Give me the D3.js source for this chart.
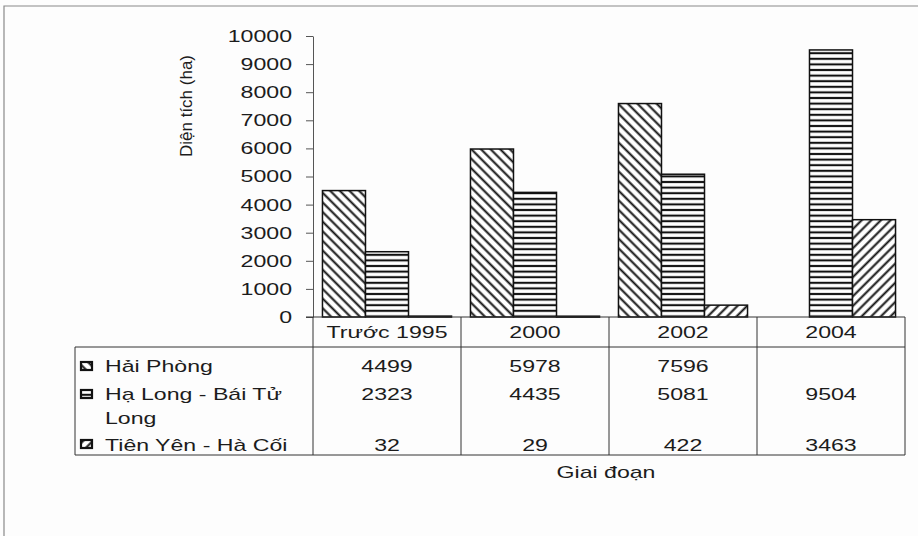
<!DOCTYPE html>
<html>
<head>
<meta charset="utf-8">
<script src="https://cdn.jsdelivr.net/npm/d3@7"></script>
<style>
  body { margin: 0; background: #fdfdfd; }
  svg { display: block; }
  text { font-family: "Liberation Sans", Arial, sans-serif; font-size: 17px; fill: #1c1c1c; }
</style>
</head>
<body>
<svg id="chart"></svg>
<script>
// data
const categories = ["Trước 1995", "2000", "2002", "2004"];
const seriesNames = ["Hải Phòng", "Hạ Long - Bái Tử Long", "Tiên Yên - Hà Cối"];
const haiPhong = [4499, 5978, 7596, null];
const haLong = [2323, 4435, 5081, 9504];
const tienYen = [32, 29, 422, 3463];
const yTicks = [0, 1000, 2000, 3000, 4000, 5000, 6000, 7000, 8000, 9000, 10000];
const yTitle = "Diện tích (ha)";
const xTitle = "Giai đoạn";

const series = [haiPhong, haLong, tienYen];
const patternIds = ["pHai", "pHa", "pTien"];

const width = 918;
const height = 536;
const SX = 1.36; // the scan is stretched sideways, so the text is too
const plot = { left: 313, right: 905, top: 36, bottom: 317 };
const table = { left: 75, headBottom: 347, bottom: 455 };

const svg = d3.select("#chart").attr("width", width).attr("height", height);

// hatch patterns
const defs = svg.append("defs");
function hatch(id, angle, gap, lw) {
  const p = defs.append("pattern")
    .attr("id", id)
    .attr("patternUnits", "userSpaceOnUse")
    .attr("width", gap)
    .attr("height", gap)
    .attr("patternTransform", `rotate(${angle})`);
  p.append("rect").attr("width", gap).attr("height", gap).attr("fill", "#fff");
  p.append("line")
    .attr("x1", gap / 2).attr("x2", gap / 2)
    .attr("y1", -1).attr("y2", gap + 1)
    .attr("stroke", "#111")
    .attr("stroke-width", lw);
}
hatch("pHai", -45, 6.8, 2);
hatch("pHa", 90, 5.6, 2.1);
hatch("pTien", 45, 6.8, 2);

// frame of the scanned page
svg.append("path")
  .attr("d", `M4,${height} V6 H${width}`)
  .attr("fill", "none")
  .attr("stroke", "#8a8a8a")
  .attr("stroke-width", 1.2);

const x = d3.scaleBand().domain(categories).range([plot.left, plot.right]);
const xSub = d3.scaleBand().domain(d3.range(series.length))
  .range([0, x.bandwidth()])
  .paddingOuter(0.22);
const y = d3.scaleLinear().domain([0, 10000]).range([plot.bottom, plot.top]);

function stretchedText(g, tx, ty, str, anchor) {
  return g.append("text")
    .attr("transform", `translate(${tx},${ty}) scale(${SX},1)`)
    .attr("text-anchor", anchor)
    .text(str);
}

// y axis
const yAxis = svg.append("g")
  .attr("transform", `translate(${plot.left},0)`)
  .call(d3.axisLeft(y).tickValues(yTicks).tickSize(7).tickSizeOuter(0).tickFormat(d3.format("d")));
yAxis.select(".domain").attr("stroke", "#555");
yAxis.selectAll(".tick line").attr("stroke", "#555");
yAxis.selectAll(".tick text")
  .attr("font-size", null)
  .attr("font-family", null)
  .attr("fill", null)
  .attr("x", -21 / SX)
  .attr("transform", `scale(${SX},1)`);
yAxis.attr("font-size", null).attr("font-family", null);

svg.append("text")
  .attr("transform", `translate(192,106) rotate(-90)`)
  .attr("text-anchor", "middle")
  .attr("font-size", 16)
  .text(yTitle);

// bars
const barData = [];
series.forEach((vals, si) => {
  vals.forEach((v, ci) => {
    if (v != null) barData.push({ si, cat: categories[ci], value: v });
  });
});
svg.append("g")
  .selectAll("rect")
  .data(barData)
  .join("rect")
  .attr("x", (d) => x(d.cat) + xSub(d.si))
  .attr("y", (d) => y(d.value))
  .attr("width", xSub.bandwidth())
  .attr("height", (d) => Math.max(1, plot.bottom - y(d.value)))
  .attr("fill", (d) => `url(#${patternIds[d.si]})`)
  .attr("stroke", "#111")
  .attr("stroke-width", 1.5);

// data table under the plot
const grid = svg.append("g").attr("stroke", "#333").attr("stroke-width", 1).attr("fill", "none");
grid.append("line").attr("x1", plot.left - 7).attr("x2", plot.right).attr("y1", plot.bottom).attr("y2", plot.bottom);
grid.append("line").attr("x1", table.left).attr("x2", plot.right).attr("y1", table.headBottom).attr("y2", table.headBottom);
grid.append("line").attr("x1", table.left).attr("x2", plot.right).attr("y1", table.bottom).attr("y2", table.bottom);
grid.append("line").attr("x1", table.left).attr("x2", table.left).attr("y1", table.headBottom).attr("y2", table.bottom);
grid.selectAll(".col")
  .data(categories.map((c) => x(c)).concat([plot.right]))
  .join("line")
  .attr("x1", (d) => d).attr("x2", (d) => d)
  .attr("y1", plot.bottom).attr("y2", table.bottom);

const txt = svg.append("g");
categories.forEach((c) => {
  stretchedText(txt, x(c) + x.bandwidth() / 2, 338, c, "middle");
});

const rowBaselines = [372, 400, 451];
series.forEach((vals, si) => {
  vals.forEach((v, ci) => {
    if (v == null) return;
    stretchedText(txt, x(categories[ci]) + x.bandwidth() / 2, rowBaselines[si], String(v), "middle");
  });
});

// legend keys and names
const keyTops = [362, 390, 440];
seriesNames.forEach((name, si) => {
  svg.append("rect")
    .attr("x", 81).attr("y", keyTops[si])
    .attr("width", 11).attr("height", 8)
    .attr("fill", `url(#${patternIds[si]})`)
    .attr("stroke", "#111")
    .attr("stroke-width", 2.2);
});
stretchedText(txt, 105, 372, seriesNames[0], "start");
stretchedText(txt, 105, 400, "Hạ Long - Bái Tử", "start");
stretchedText(txt, 105, 424, "Long", "start");
stretchedText(txt, 105, 451, seriesNames[2], "start");

stretchedText(txt, 606, 478, xTitle, "middle");
</script>
</body>
</html>
